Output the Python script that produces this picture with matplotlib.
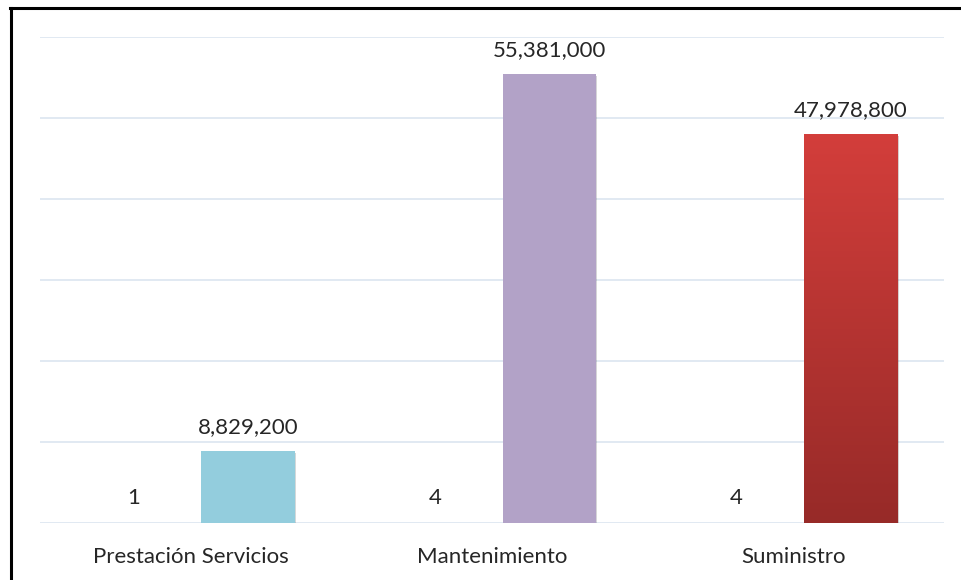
import numpy as np
import matplotlib.pyplot as plt
from matplotlib.lines import Line2D
from matplotlib.colors import LinearSegmentedColormap
import matplotlib.patheffects as pe

# Data
categories = ['Prestación Servicios', 'Mantenimiento', 'Suministro']
counts = [1, 4, 4]
amounts = [8829200, 55381000, 47978800]
bar_colors = ['#93CDDD', '#B2A2C7', None]  # last one is drawn with a red gradient

plt.rcParams['font.family'] = ['Lato', 'DejaVu Sans']

W, H = 961, 580
fig = plt.figure(figsize=(W / 100, H / 100), dpi=100)
ax = fig.add_axes([40 / W, (H - 523) / H, (944 - 40) / W, (523 - 37) / H])

x = np.arange(len(categories))
off = 0.19
width = 0.31

# count bars (practically invisible at this scale)
ax.bar(x - off, counts, width, color='none', zorder=3)
bars = ax.bar(x + off, amounts, width, color=[c if c else '#C0392B' for c in bar_colors], zorder=3)

for b in bars:
    b.set_path_effects([pe.SimplePatchShadow(offset=(1.0, -1.2), alpha=0.2), pe.Normal()])

# gradient fill for the Suministro bar
red = LinearSegmentedColormap.from_list('red', ['#972A28', '#D33E3B'])
rb = bars[2]
grad = np.linspace(0, 1, 256).reshape(-1, 1)
im = ax.imshow(grad, cmap=red, origin='lower', aspect='auto', zorder=4,
               extent=[rb.get_x(), rb.get_x() + rb.get_width(), 0, rb.get_height()])
im.set_clip_path(rb)

fs = 16
for xi, v in zip(x - off, counts):
    ax.annotate(f'{v:,}', (xi, v), xytext=(0, 13.5), textcoords='offset points',
                ha='center', va='baseline', fontsize=fs, color='#262626')
for xi, v in zip(x + off, amounts):
    ax.annotate(f'{v:,}', (xi, v), xytext=(0, 13.5), textcoords='offset points',
                ha='center', va='baseline', fontsize=fs, color='#262626')

ax.set_xlim(-0.5, len(categories) - 0.5)
ax.set_ylim(0, 60000000)
ax.set_yticks(np.arange(0, 60000001, 10000000))
ax.set_yticklabels([])
ax.set_xticks(x)
ax.set_xticklabels(categories, fontsize=fs, color='#262626')
ax.tick_params(axis='both', length=0)
ax.tick_params(axis='x', pad=17.5)
ax.grid(axis='y', color='#DCE5F0', linewidth=1.2, zorder=0)
for s in ax.spines.values():
    s.set_visible(False)

# partial black frame (left and top edges)
fig.add_artist(Line2D([11 / W, 11 / W], [0, 1 - 8 / H], transform=fig.transFigure, color='black', linewidth=2.2))
fig.add_artist(Line2D([10 / W, 1], [1 - 8 / H, 1 - 8 / H], transform=fig.transFigure, color='black', linewidth=2.2))

fig.savefig('out.png', dpi=100)
